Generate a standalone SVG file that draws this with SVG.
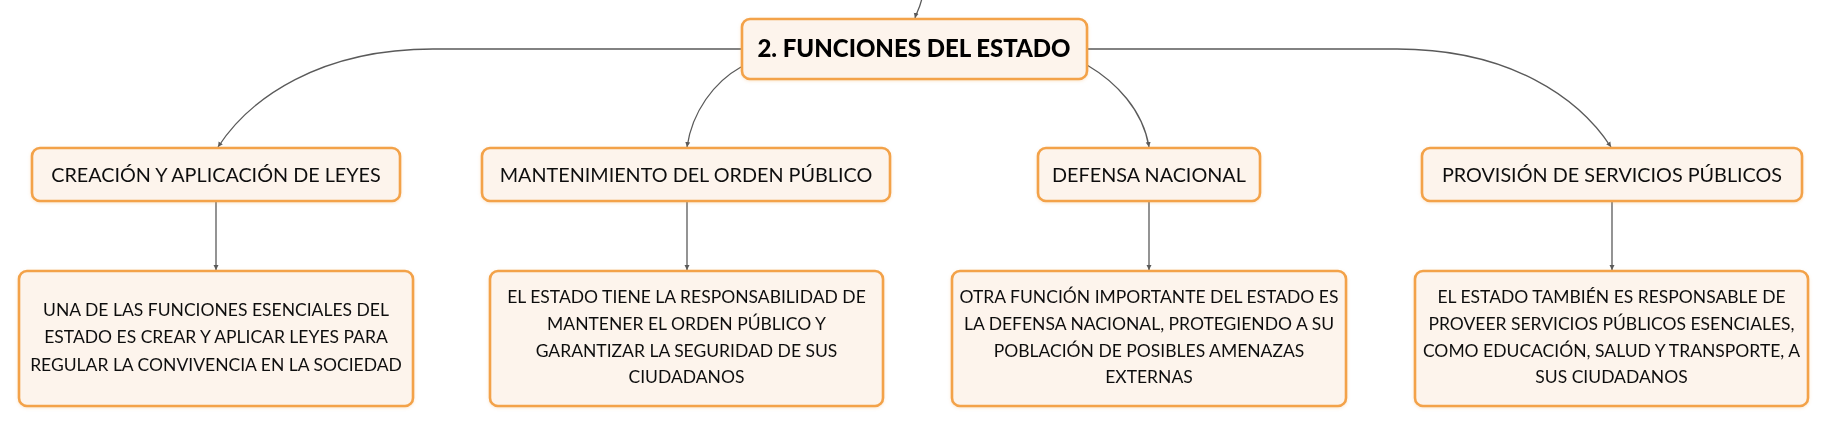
<svg xmlns="http://www.w3.org/2000/svg" width="1829" height="426" viewBox="0 0 1829 426">
<style>
.box{fill:#fdf4ec;stroke:#f3a249;stroke-width:2.6}
.t{font-family:"Lato","Open Sans","Liberation Sans",sans-serif;fill:#111;text-anchor:middle}
.title{font-size:19.8px}
.main{font-size:24px;font-weight:900;fill:#000}
.desc{font-size:17.5px}
.c{fill:none;stroke:#5a5a5a;stroke-width:1.3;marker-end:url(#ah)}
</style>
<defs>
<marker id="ah" markerUnits="userSpaceOnUse" markerWidth="7" markerHeight="7" refX="5" refY="3" orient="auto">
<path d="M0,0.5 L5,3 L0,5.5 z" fill="#5a5a5a"/>
</marker>
<filter id="sh" x="-5%" y="-10%" width="110%" height="130%">
<feDropShadow dx="0" dy="1" stdDeviation="1.5" flood-color="#e9a050" flood-opacity="0.25"/>
</filter>
</defs>
<rect width="1829" height="426" fill="#fff"/>
<g id="connectors">
<path class="c" d="M922,-2 C920,8 916,14 915,18"/>
<path class="c" d="M741,49 L433,49 C320,49 250,98 218,147"/>
<path class="c" d="M741,67 C714,82 692,112 687,147"/>
<path class="c" d="M1087,65 C1116,82 1143,110 1149,147"/>
<path class="c" d="M1087,49 L1397,49 C1510,49 1579,98 1611,147"/>
<path class="c" d="M216,202 L216,270"/>
<path class="c" d="M687,202 L687,270"/>
<path class="c" d="M1149,202 L1149,270"/>
<path class="c" d="M1612,202 L1612,270"/>
</g>
<g id="central" filter="url(#sh)">
<rect class="box" x="742" y="19" width="345" height="60" rx="8"/>
<text class="t main" x="914" y="57">2. FUNCIONES DEL ESTADO</text>
</g>
<g id="n1" filter="url(#sh)">
<rect class="box" x="32" y="148" width="368" height="53" rx="8"/>
<text class="t title" x="216" y="182">CREACIÓN Y APLICACIÓN DE LEYES</text>
</g>
<g id="n2" filter="url(#sh)">
<rect class="box" x="482" y="148" width="408" height="53" rx="8"/>
<text class="t title" x="686" y="182">MANTENIMIENTO DEL ORDEN PÚBLICO</text>
</g>
<g id="n3" filter="url(#sh)">
<rect class="box" x="1038" y="148" width="222" height="53" rx="8"/>
<text class="t title" x="1149" y="182">DEFENSA NACIONAL</text>
</g>
<g id="n4" filter="url(#sh)">
<rect class="box" x="1422" y="148" width="380" height="53" rx="8"/>
<text class="t title" x="1612" y="182">PROVISIÓN DE SERVICIOS PÚBLICOS</text>
</g>
<g id="d1" filter="url(#sh)">
<rect class="box" x="19" y="271" width="394" height="135" rx="8"/>
<text class="t desc" x="216" y="316">UNA DE LAS FUNCIONES ESENCIALES DEL</text>
<text class="t desc" x="216" y="343">ESTADO ES CREAR Y APLICAR LEYES PARA</text>
<text class="t desc" x="216" y="371">REGULAR LA CONVIVENCIA EN LA SOCIEDAD</text>
</g>
<g id="d2" filter="url(#sh)">
<rect class="box" x="490" y="271" width="393" height="135" rx="8"/>
<text class="t desc" x="686.5" y="303">EL ESTADO TIENE LA RESPONSABILIDAD DE</text>
<text class="t desc" x="686.5" y="330">MANTENER EL ORDEN PÚBLICO Y</text>
<text class="t desc" x="686.5" y="357">GARANTIZAR LA SEGURIDAD DE SUS</text>
<text class="t desc" x="686.5" y="383">CIUDADANOS</text>
</g>
<g id="d3" filter="url(#sh)">
<rect class="box" x="952" y="271" width="394" height="135" rx="8"/>
<text class="t desc" x="1149" y="303">OTRA FUNCIÓN IMPORTANTE DEL ESTADO ES</text>
<text class="t desc" x="1149" y="330">LA DEFENSA NACIONAL, PROTEGIENDO A SU</text>
<text class="t desc" x="1149" y="357">POBLACIÓN DE POSIBLES AMENAZAS</text>
<text class="t desc" x="1149" y="383">EXTERNAS</text>
</g>
<g id="d4" filter="url(#sh)">
<rect class="box" x="1415" y="271" width="393" height="135" rx="8"/>
<text class="t desc" x="1611.5" y="303">EL ESTADO TAMBIÉN ES RESPONSABLE DE</text>
<text class="t desc" x="1611.5" y="330">PROVEER SERVICIOS PÚBLICOS ESENCIALES,</text>
<text class="t desc" x="1611.5" y="357">COMO EDUCACIÓN, SALUD Y TRANSPORTE, A</text>
<text class="t desc" x="1611.5" y="383">SUS CIUDADANOS</text>
</g>
</svg>
